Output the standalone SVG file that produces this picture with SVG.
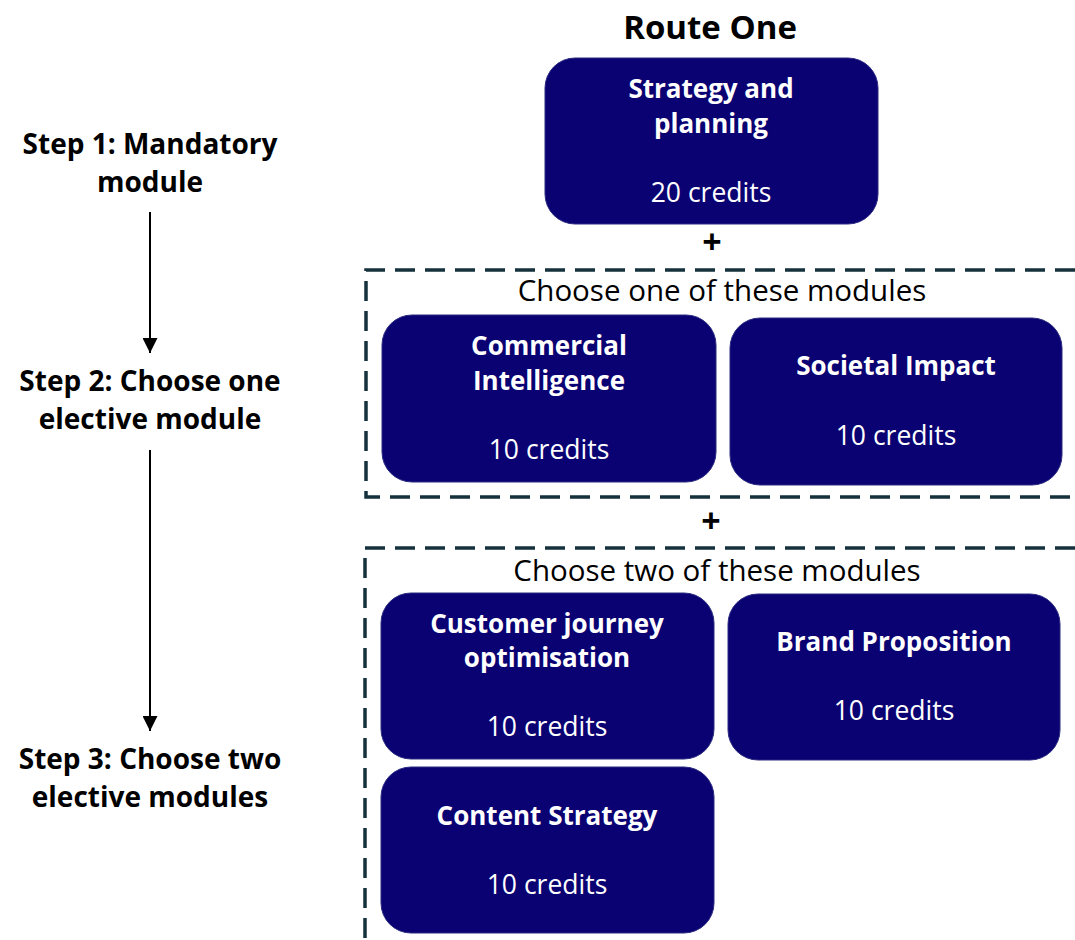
<svg xmlns="http://www.w3.org/2000/svg" width="1075" height="940" viewBox="0 0 1075 940">
<defs>
<style>
.box{fill:#0a0272;stroke:#2a2a80;stroke-width:1}
.t{font-family:"Open Sans","Liberation Sans",sans-serif;text-anchor:middle}
.bt{font-weight:700;font-size:26px;fill:#fff}
.cr{font-size:26.5px;fill:#fff}
.step{font-weight:700;font-size:28px;fill:#000}
.choose{font-size:29.5px;fill:#000}
.plus{font-weight:700;font-size:34px;fill:#000}
.dash{fill:none;stroke:#14313c;stroke-width:3.5;stroke-dasharray:20 10}
.arr{stroke:#000;stroke-width:2;fill:none}
</style>
<marker id="ah2" viewBox="0 0 16 16" refX="16" refY="8" markerWidth="18" markerHeight="15" markerUnits="userSpaceOnUse" orient="auto">
<path d="M0,0 L16,8 L0,16 Z" fill="#000"/>
</marker>
</defs>
<rect width="1075" height="940" fill="#fff"/>

<g id="steps">
<text class="t step" x="150" y="154">Step 1: Mandatory</text>
<text class="t step" x="150" y="192">module</text>
<text class="t step" x="150" y="391">Step 2: Choose one</text>
<text class="t step" x="150" y="429">elective module</text>
<text class="t step" x="150" y="769">Step 3: Choose two</text>
<text class="t step" x="150" y="807">elective modules</text>
</g>

<g id="connectors">
<line class="arr" x1="150" y1="212" x2="150" y2="353" marker-end="url(#ah2)"/>
<line class="arr" x1="150" y1="450" x2="150" y2="731" marker-end="url(#ah2)"/>
</g>

<g id="groups">
<path class="dash" d="M1075 270 H366 V497 H1075"/>
<path class="dash" d="M1075 548 H365 V940"/>
<text class="t choose" x="722" y="301">Choose one of these modules</text>
<text class="t choose" x="717" y="581">Choose two of these modules</text>
<text class="t plus" x="712" y="254">+</text>
<text class="t plus" x="711" y="533">+</text>
</g>

<text class="t" x="710" y="39" style="font-weight:700;font-size:33px;fill:#000">Route One</text>

<g id="strategy">
<rect class="box" x="545" y="58" width="333" height="166" rx="30"/>
<text class="t bt" x="711" y="98">Strategy and</text>
<text class="t bt" x="711" y="133">planning</text>
<text class="t cr" x="711" y="202">20 credits</text>
</g>

<g id="commercial">
<rect class="box" x="382" y="315" width="334" height="167" rx="30"/>
<text class="t bt" x="549" y="355">Commercial</text>
<text class="t bt" x="549" y="390">Intelligence</text>
<text class="t cr" x="549" y="459">10 credits</text>
</g>

<g id="societal">
<rect class="box" x="730" y="318" width="332" height="167" rx="30"/>
<text class="t bt" x="896" y="375">Societal Impact</text>
<text class="t cr" x="896" y="445">10 credits</text>
</g>

<g id="customer">
<rect class="box" x="381" y="593" width="333" height="166" rx="30"/>
<text class="t bt" x="547" y="633">Customer journey</text>
<text class="t bt" x="547" y="667">optimisation</text>
<text class="t cr" x="547" y="736">10 credits</text>
</g>

<g id="brand">
<rect class="box" x="728" y="594" width="332" height="166" rx="30"/>
<text class="t bt" x="894" y="651">Brand Proposition</text>
<text class="t cr" x="894" y="720">10 credits</text>
</g>

<g id="content">
<rect class="box" x="381" y="767" width="333" height="166" rx="30"/>
<text class="t bt" x="547" y="825">Content Strategy</text>
<text class="t cr" x="547" y="894">10 credits</text>
</g>
</svg>
